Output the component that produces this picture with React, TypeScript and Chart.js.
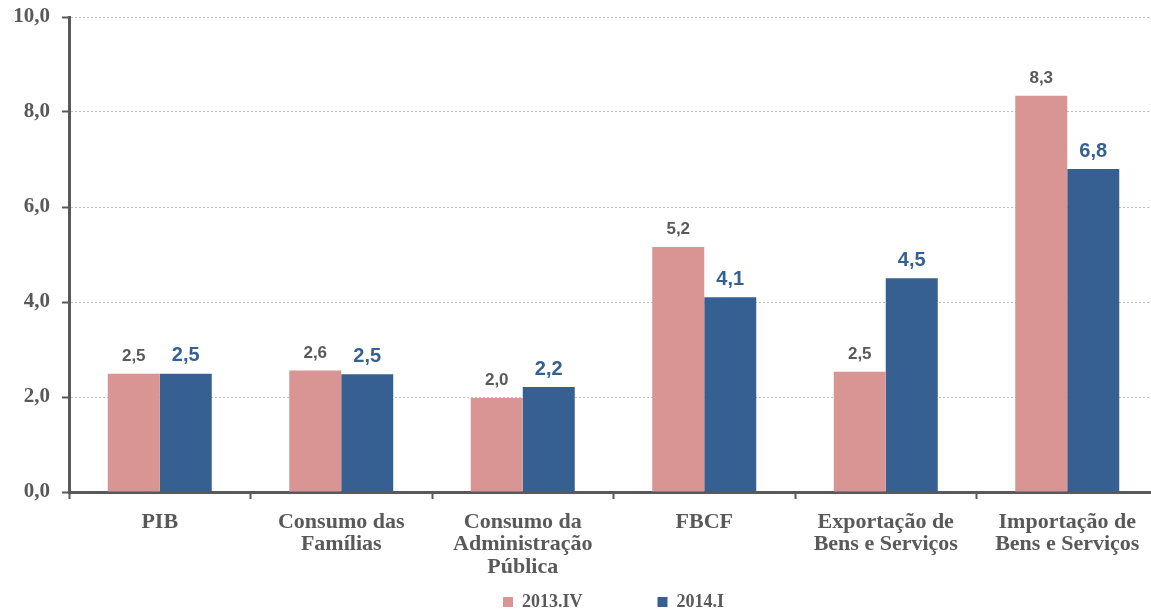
import React, { useEffect, useRef } from "react";
import { Chart, registerables } from "chart.js";

Chart.register(...registerables);

const categories: string[][] = [
  ["PIB"],
  ["Consumo das", "Famílias"],
  ["Consumo da", "Administração", "Pública"],
  ["FBCF"],
  ["Exportação de", "Bens e Serviços"],
  ["Importação de", "Bens e Serviços"],
];
const seriesNames = ["2013.IV", "2014.I"];
const values2013IV = [2.49, 2.56, 1.98, 5.16, 2.53, 8.34];
const values2014I = [2.49, 2.48, 2.21, 4.1, 4.5, 6.8];
const yTickValues = [0, 2, 4, 6, 8, 10];

const GRAY = "#595959";
const PINK = "#D99594";
const BLUE = "#366092";
const SERIF = '"Liberation Serif", "Times New Roman", serif';
const SANS = '"Liberation Sans", Arial, sans-serif';

const fmt = (v: number) => (Math.round(v * 10) / 10).toFixed(1).replace(".", ",");

const labelStyles = [
  { color: GRAY, size: 17, offset: 9 },
  { color: BLUE, size: 20, offset: 8 },
];

const valueLabels = {
  id: "valueLabels",
  afterDatasetsDraw(chart: any) {
    const ctx = chart.ctx;
    chart.data.datasets.forEach((ds: any, di: number) => {
      const meta = chart.getDatasetMeta(di);
      const st = labelStyles[di];
      ctx.save();
      ctx.font = `bold ${st.size}px ${SANS}`;
      ctx.fillStyle = st.color;
      ctx.textAlign = "center";
      ctx.textBaseline = "bottom";
      meta.data.forEach((bar: any, i: number) => {
        ctx.fillText(fmt(ds.data[i]), bar.x, bar.y - st.offset);
      });
      ctx.restore();
    });
  },
};

export default function App() {
  const ref = useRef<HTMLCanvasElement>(null);
  useEffect(() => {
    const chart = new Chart(ref.current as HTMLCanvasElement, {
      type: "bar",
      data: {
        labels: categories,
        datasets: [
          {
            label: seriesNames[0],
            data: values2013IV,
            backgroundColor: PINK,
            categoryPercentage: 0.573,
            barPercentage: 1.0,
          },
          {
            label: seriesNames[1],
            data: values2014I,
            backgroundColor: BLUE,
            categoryPercentage: 0.573,
            barPercentage: 1.0,
          },
        ],
      },
      options: {
        responsive: false,
        animation: false,
        layout: { padding: { top: 17, right: 2, left: 0, bottom: -6 } },
        plugins: {
          legend: {
            position: "bottom",
            fullSize: false,
            labels: {
              boxWidth: 10,
              boxHeight: 10,
              padding: 75,
              color: GRAY,
              font: { family: SERIF, size: 18, weight: "bold" },
            },
          },
          tooltip: { enabled: false },
        },
        scales: {
          x: {
            grid: {
              display: true,
              drawOnChartArea: false,
              drawTicks: true,
              tickLength: 7,
              tickColor: GRAY,
              tickWidth: 2,
              offset: true,
            },
            border: { color: GRAY, width: 3 },
            ticks: {
              color: GRAY,
              font: { family: SERIF, size: 22, weight: "bold", lineHeight: 1.02 },
              padding: 12,
              maxRotation: 0,
              autoSkip: false,
            },
            afterFit: (s: any) => {
              s.height = 26;
              s._computeLabelArea = () => undefined;
            },
          },
          y: {
            min: 0,
            max: 10,
            afterBuildTicks: (s: any) => {
              s.ticks = yTickValues.map((v) => ({ value: v }));
            },
            ticks: {
              color: GRAY,
              font: { family: SERIF, size: 21, weight: "bold" },
              padding: 12,
              callback: (v: any) => fmt(Number(v)),
            },
            grid: {
              color: "#BFBFBF",
              lineWidth: 1,
              tickColor: GRAY,
              tickWidth: 2,
              tickLength: 7,
            },
            border: { color: GRAY, width: 3, dash: [2, 2] },
            afterFit: (s: any) => {
              s.width = 69;
              s.paddingTop = 0;
              s.paddingBottom = 0;
            },
          },
        },
      },
      plugins: [valueLabels],
    } as any);
    return () => chart.destroy();
  }, []);
  return (
    <div
      style={{
        position: "absolute",
        left: 0,
        top: 0,
        width: 1151,
        height: 615,
        overflow: "hidden",
        background: "#fff",
      }}
    >
      <canvas ref={ref} width={1160} height={615} style={{ display: "block" }} />
    </div>
  );
}
